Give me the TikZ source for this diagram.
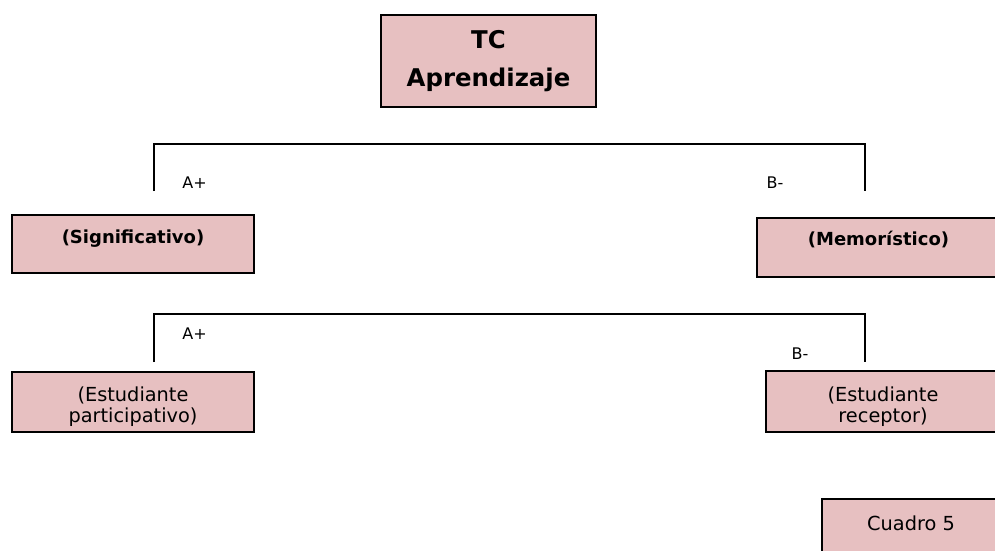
\documentclass[tikz,border=0pt]{standalone}
\usepackage{fontspec}
\setmainfont{DejaVu Sans}
\usepackage{tikz}
\usetikzlibrary{positioning}
\definecolor{rosa}{RGB}{231,192,193}
\newcommand{\desplaza}[2]{\raisebox{#1}[\height][\depth]{#2}}
\tikzstyle{caja} = [rectangle, draw=black, line width=1.1pt, fill=rosa, align=center, inner sep=0pt]
\tikzstyle{rama} = [line width=1.1pt, black]
\tikzstyle{etiq} = [inner sep=0pt, font=\fontsize{12pt}{14pt}\selectfont]
\tikzstyle{txt} = [font=\fontsize{14.5pt}{15.75pt}\selectfont]
\tikzstyle{txtb} = [font=\bfseries\fontsize{13.5pt}{16pt}\selectfont]

\begin{document}
\begin{tikzpicture}[x=0.75pt,y=-0.75pt]
    \useasboundingbox (0,0) rectangle (995,550);
    \clip (0,0) rectangle (995,550);
    \node (Titulo) [caja, minimum width=161.25pt, minimum height=69pt, font=\bfseries\fontsize{18.3pt}{28.5pt}\selectfont] at (488.5,61) {TC\\Aprendizaje};
    \node (Signif) [caja, txtb, minimum width=181.5pt, minimum height=43.5pt] at (133,244) {\desplaza{4pt}{(Significativo)}};
    \node (Memor) [caja, txtb, minimum width=182.25pt, minimum height=44.25pt] at (878.5,247.5) {\desplaza{6pt}{(Memorístico)}};
    \node (Partic) [caja, txt, minimum width=181.5pt, minimum height=45pt] at (133,402) {\desplaza{-4.5pt}{\begin{tabular}{@{}c@{}}(Estudiante\\participativo)\end{tabular}}};
    \node (Recept) [caja, txt, minimum width=175.5pt, minimum height=45.75pt] at (883,401.5) {\desplaza{-4.5pt}{\begin{tabular}{@{}c@{}}(Estudiante\\receptor)\end{tabular}}};
    \node (Cuadro) [caja, txt, minimum width=133.5pt, minimum height=39.75pt] at (911,525.5) {\desplaza{2pt}{Cuadro 5}};
    % ramas
    \coordinate (izq1) at (154,191);
    \coordinate (der1) at (865,191);
    \coordinate (cima1) at (500,144);
    \coordinate (izq2) at (154,362);
    \coordinate (der2) at (865,362);
    \coordinate (cima2) at (500,314);
    \draw[rama] (izq1) |- (cima1) -| (der1);
    \draw[rama] (izq2) |- (cima2) -| (der2);
    \node (A1) [etiq] at (194.5,182.5) {A+};
    \node (B1) [etiq] at (775,182.5) {B-};
    \node (A2) [etiq] at (194.5,334) {A+};
    \node (B2) [etiq] at (800,354) {B-};
\end{tikzpicture}
\end{document}
